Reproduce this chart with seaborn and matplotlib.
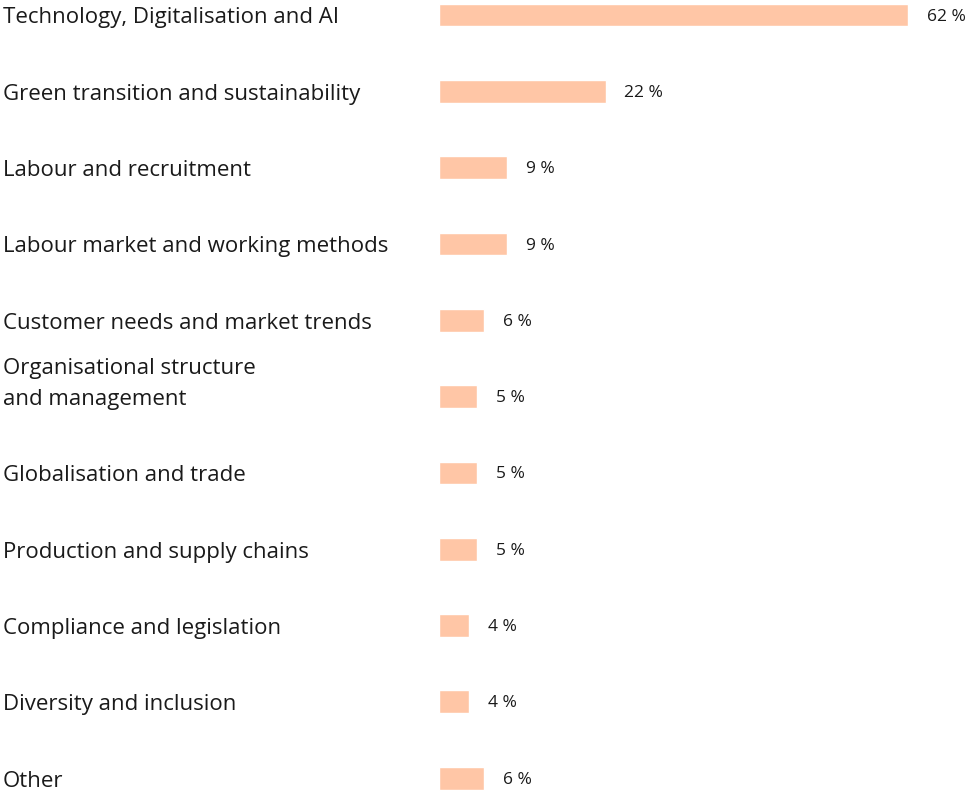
import matplotlib
matplotlib.use("Agg")
import matplotlib.pyplot as plt
import matplotlib.transforms as mtransforms
import seaborn as sns
import pandas as pd

categories = [
    "Technology, Digitalisation and AI",
    "Green transition and sustainability",
    "Labour and recruitment",
    "Labour market and working methods",
    "Customer needs and market trends",
    "Organisational structure\nand management",
    "Globalisation and trade",
    "Production and supply chains",
    "Compliance and legislation",
    "Diversity and inclusion",
    "Other",
]
shares = [62, 22, 9, 9, 6, 5, 5, 5, 4, 4, 6]

BAR_COLOR = "#FFC6A6"
TEXT_COLOR = "#1a1a1a"

sns.set_theme(style="white")
plt.rcParams["font.family"] = ["Open Sans", "DejaVu Sans"]

df = pd.DataFrame({"category": categories, "share": shares})

fig = plt.figure(figsize=(9.69, 7.92), dpi=100)
ax = fig.add_axes([0.453, 0.0, 0.547, 1.0])

sns.barplot(data=df, x="share", y="category", orient="h", color=BAR_COLOR,
            width=0.30, saturation=1, ax=ax)

ax.set_xlim(0, 70)
ax.set_ylim(10.18, -0.197)
ax.set_axis_off()

# category names, left-aligned at the figure edge
trans = mtransforms.blended_transform_factory(fig.transFigure, ax.transData)
for i, name in enumerate(categories):
    ax.text(0.003, i + 0.11, name, transform=trans, ha="left", va="baseline",
            fontsize=16, color=TEXT_COLOR, linespacing=1.62, clip_on=False)

# value labels next to each bar
for i, v in enumerate(shares):
    ax.text(v + 2.5, i + 0.02, f"{v} %", ha="left", va="center", fontsize=12.5,
            color=TEXT_COLOR, clip_on=False)

fig.savefig("out.png", dpi=100)
